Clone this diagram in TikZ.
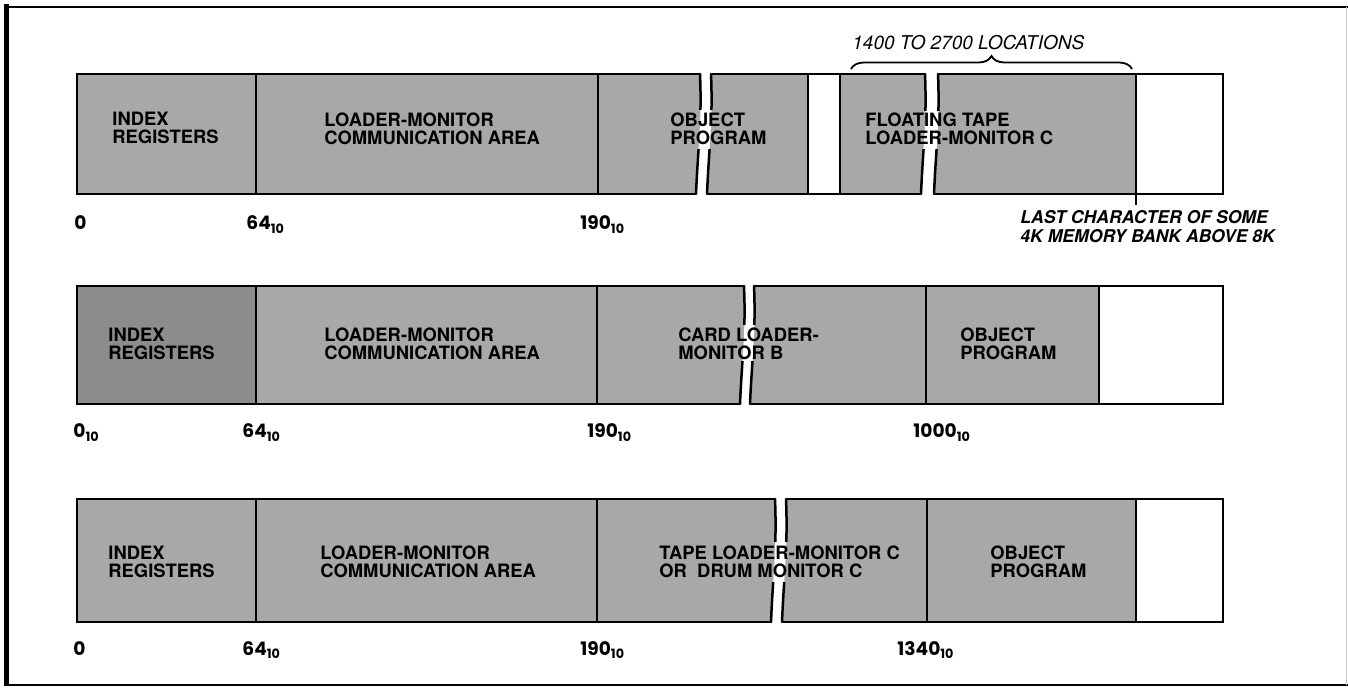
\documentclass[tikz,border=0pt]{standalone}
\usepackage{fontspec}
\setmainfont{TeX Gyre Heros}
\newfontfamily\numfont{Poppins}
\usetikzlibrary{decorations.pathreplacing}
\definecolor{memgray}{gray}{0.66}
\definecolor{memgraydk}{gray}{0.55}
\newcommand{\subten}[1]{\raisebox{-1.6pt}{\fontsize{6.4}{7}\selectfont #1}}
% break: #1 = x of left edge at top, #2 = gap, #3 = top, #4 = bottom, #5 = band top, #6 = band bottom
\newcommand{\brk}[6]{%
  \fill[white] (#1,#3-3) -- (#1,#3)
     .. controls ({#1+2},{#3+0.4*(#4-#3)}) and ({#1-2},{#3+0.6*(#4-#3)}) .. ({#1-4},#4)
     -- ({#1-4},#4+3) -- ({#1-4+#2},#4+3) -- ({#1-4+#2},#4)
     .. controls ({#1-2+#2},{#3+0.6*(#4-#3)}) and ({#1+2+#2},{#3+0.4*(#4-#3)}) .. ({#1+#2},#3)
     -- ({#1+#2},#3-3) -- cycle;
  \foreach \ya/\yb in {{#3-5}/#5,#6/{#4+5}}{%
    \begin{scope}
      \clip (#1-20,\ya) rectangle (#1+40,\yb);
      \draw[outl,line cap=round] (#1,#3)
        .. controls ({#1+2},{#3+0.4*(#4-#3)}) and ({#1-2},{#3+0.6*(#4-#3)}) .. ({#1-4},#4);
      \draw[outl,line cap=round] ({#1+#2},#3)
        .. controls ({#1+2+#2},{#3+0.4*(#4-#3)}) and ({#1-2+#2},{#3+0.6*(#4-#3)}) .. ({#1-4+#2},#4);
    \end{scope}}%
}
\tikzset{
  outl/.style={line width=1.25pt},
  boxtxt/.style={font=\fontsize{9.2}{9}\selectfont\bfseries, align=left, anchor=west, inner sep=0pt},
  lbl/.style={font=\numfont\bfseries\fontsize{9.3}{10}\selectfont, anchor=base west, inner sep=0pt},
  note/.style={font=\fontsize{8.8}{9.5}\selectfont\bfseries\itshape, align=left, anchor=west, inner sep=0pt},
}
\begin{document}
\begin{tikzpicture}[x=0.5pt,y=-0.5pt]
\useasboundingbox (0,0) rectangle (1348,688);
% frame
\draw[line width=2.5pt] (6,4) -- (6,686);
\draw[line width=1.3pt] (4,7) -- (1348,7);
\draw[line width=1.3pt] (4,685) -- (1348,685);
\draw[gray!45, line width=0.5pt] (1346,7) -- (1346,685);

% ---------------- row 1 ----------------
\fill[memgray] (77,74) rectangle (808,194);
\fill[memgray] (840,74) rectangle (1136,194);
\draw[outl] (77,74) rectangle (1223,194);
\foreach \x in {256,598,808,840,1136} \draw[outl] (\x,74) -- (\x,194);
\draw[outl] (1136,194) -- (1136,205);
\brk{700}{11}{74}{194}{110}{150}
\brk{925}{13}{74}{194}{111}{150}
\node[boxtxt] (r1idx) at (112,128) {INDEX\\REGISTERS};
\node[boxtxt] (r1lm) at (324,129) {LOADER-MONITOR\\COMMUNICATION AREA};
\node[boxtxt] (r1obj) at (670,129) {OBJECT\\PROGRAM};
\node[boxtxt] (r1flt) at (865,129) {FLOATING TAPE\\LOADER-MONITOR C};
\draw[decorate, decoration={brace, amplitude=6.5pt}, line width=0.9pt] (851,69) -- (1132,69);
\node[font=\fontsize{9.5}{10}\selectfont\itshape, anchor=west, inner sep=0pt] (r1loc) at (852,43) {1400 TO 2700 LOCATIONS};
\node[note] (r1last) at (1020,227) {LAST CHARACTER OF SOME\\4K MEMORY BANK ABOVE 8K};
\node[lbl] (r1l0) at (74,230) {0};
\node[lbl] (r1l64) at (246,230) {64\subten{10}};
\node[lbl] (r1l190) at (580,230) {190\subten{10}};

% ---------------- row 2 ----------------
\fill[memgraydk] (77,286) rectangle (256,404);
\fill[memgray] (256,286) rectangle (1099,404);
\draw[outl] (77,286) rectangle (1223,404);
\foreach \x in {256,597,926,1099} \draw[outl] (\x,286) -- (\x,404);
\brk{744}{10}{286}{404}{325}{362}
\node[boxtxt] (r2idx) at (108,344) {INDEX\\REGISTERS};
\node[boxtxt] (r2lm) at (324,344) {LOADER-MONITOR\\COMMUNICATION AREA};
\node[boxtxt] (r2card) at (678,344) {CARD LOADER-\\MONITOR B};
\node[boxtxt] (r2obj) at (960,344) {OBJECT\\PROGRAM};
\node[lbl] (r2l0) at (73,438) {0\subten{10}};
\node[lbl] (r2l64) at (242,438) {64\subten{10}};
\node[lbl] (r2l190) at (587,438) {190\subten{10}};
\node[lbl] (r2l1000) at (913,438) {1000\subten{10}};

% ---------------- row 3 ----------------
\fill[memgray] (77,499) rectangle (1136,622);
\draw[outl] (77,499) rectangle (1223,622);
\foreach \x in {256,597,927,1136} \draw[outl] (\x,499) -- (\x,622);
\brk{775}{11}{499}{622}{542}{583}
\node[boxtxt] (r3idx) at (108,562) {INDEX\\REGISTERS};
\node[boxtxt] (r3lm) at (320,562) {LOADER-MONITOR\\COMMUNICATION AREA};
\node[boxtxt] (r3tape) at (659,562) {TAPE LOADER-MONITOR C\\OR\ \ DRUM MONITOR C};
\node[boxtxt] (r3obj) at (990,562) {OBJECT\\PROGRAM};
\node[lbl] (r3l0) at (73,655) {0};
\node[lbl] (r3l64) at (242,655) {64\subten{10}};
\node[lbl] (r3l190) at (580,655) {190\subten{10}};
\node[lbl] (r3l1340) at (897,655) {1340\subten{10}};
\end{tikzpicture}
\end{document}
